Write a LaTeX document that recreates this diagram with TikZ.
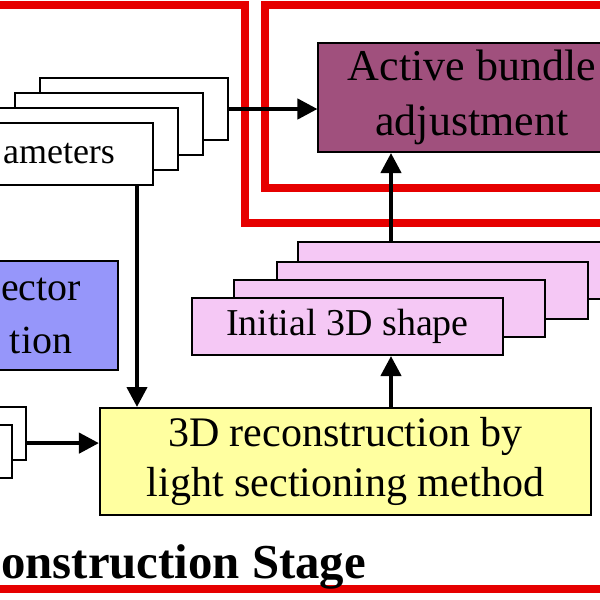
\documentclass[tikz,border=0pt]{standalone}
\usepackage{fontspec}
\setmainfont{Liberation Serif}
\usetikzlibrary{positioning,arrows.meta,calc}
\definecolor{myred}{RGB}{230,0,0}
\definecolor{mypink}{RGB}{245,200,245}
\definecolor{myyellow}{RGB}{255,255,160}
\definecolor{myblue}{RGB}{150,150,250}
\definecolor{mymauve}{RGB}{160,80,125}

\begin{document}
\begin{tikzpicture}[x=0.025cm,y=-0.025cm,
  box/.style={draw=black,line width=1.4pt,inner sep=0pt,align=center},
  parnode/.style={box,fill=white,minimum width=4.7cm,minimum height=1.55cm,
    font=\fontsize{25.6}{34}\selectfont},
  shnode/.style={box,fill=mypink,minimum width=7.775cm,minimum height=1.425cm,
    font=\fontsize{27}{34}\selectfont},
  smallnode/.style={box,fill=white,minimum width=1.5cm,minimum height=1.325cm},
  stage/.style={draw=myred,line width=0.22cm},
  arr/.style={-{Triangle[length=0.5cm,width=0.5cm]},line width=3pt}
]
\useasboundingbox (0,0) rectangle (600,600);

% the stage frames
\draw[stage] (-10,5) -- (245,5) -- (245,223) -- (610,223);
\draw[stage] (610,5) -- (265,5) -- (265,188) -- (610,188);
\draw[stage] (-10,589) -- (610,589);
\node[anchor=base west,inner sep=0pt,font=\fontsize{34.7}{40}\selectfont\bfseries] (stagelbl) at (1,578) {onstruction Stage};

% the parameter stack
\foreach \i in {3,2,1}
  \node[parnode] (par\i) at ({59+25*\i},{154-15*\i}) {};
\node[parnode] (par0) at (59,154) {ameters};

% the projector box
\node[box,fill=myblue,minimum width=3.85cm,minimum height=2.725cm,
  font=\fontsize{28.4}{37.7}\selectfont] (proj) at (41,315.5) {ector\\tion};

% the image stack
\node[smallnode] (img1) at (-4,433.5) {};
\node[smallnode] (img0) at (-18,451.5) {};

% the reconstruction
\node[box,fill=myyellow,minimum width=12.275cm,minimum height=2.675cm,
  font=\fontsize{29.9}{35.5}\selectfont] (yel) at (345.5,461.5)
  {3D reconstruction by\\light sectioning method};

% the shape stack
\node[shnode] (shp3) at (453.5,270.5) {};
\node[shnode] (shp2) at (432.5,290.5) {};
\node[shnode] (shp1) at (389.5,308.5) {};
\node[shnode] (shp0) at (347.5,326.5) {Initial 3D shape};

% the adjustment
\node[box,fill=mymauve,minimum width=7.675cm,minimum height=2.725cm,
  font=\fontsize{31.3}{39}\selectfont] (act) at (472,97.5)
  {Active bundle\\adjustment};

% the edges
\coordinate (parx) at (137,0);
\coordinate (colx) at (391,0);
\draw[arr] (par3.east) -- (par3.east -| act.west);
\draw[arr] (par0.south -| parx) -- (yel.north -| parx);
\draw[arr] ([yshift=-0.24cm]img1.east) -- ([yshift=-0.24cm]img1.east -| yel.west);
\draw[arr] (yel.north -| colx) -- (shp0.south -| colx);
\draw[arr] (shp3.north -| colx) -- (act.south -| colx);
\end{tikzpicture}
\end{document}
